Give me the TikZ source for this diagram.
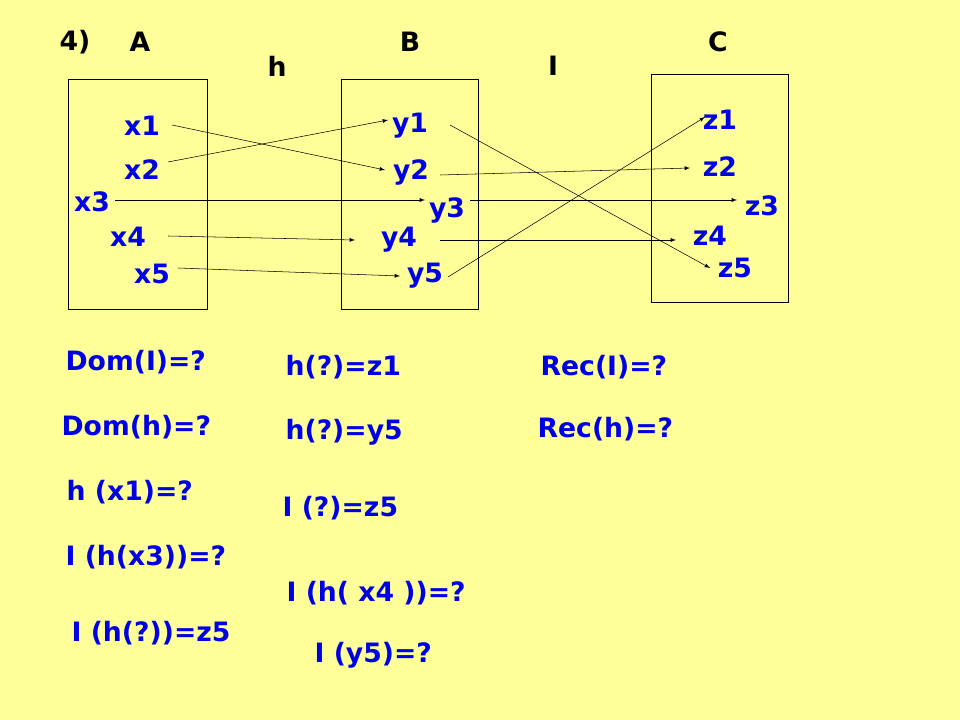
\documentclass[tikz,border=0pt]{standalone}
\usepackage{fontspec}
\setmainfont{DejaVu Sans}
\begin{document}
\begin{tikzpicture}[x=0.75pt,y=-0.75pt,
  lbl/.style={font=\bfseries\fontsize{20}{22}\selectfont,text=blue!90!black,inner sep=1pt},
  ttl/.style={font=\bfseries\fontsize{20}{22}\selectfont,text=black,inner sep=1pt},
  q/.style={lbl,anchor=west},
  ar/.style={-latex,thin},
  bx/.style={draw,thin}]
\fill[yellow!45!white,fill={rgb,255:red,255;green,255;blue,153}] (0,0) rectangle (960,720);
\useasboundingbox (0,0) rectangle (960,720);
\draw[bx] (68,79) rectangle (207,309);
\draw[bx] (341,79) rectangle (478,309);
\draw[bx] (651,74) rectangle (788,302);
\node[ttl] (t4) at (75,42) {4)};
\node[ttl] (tA) at (140,42) {A};
\node[ttl] (tB) at (410,42) {B};
\node[ttl] (tC) at (718,42) {C};
\node[ttl] (th) at (277,66) {h};
\node[ttl] (tI) at (553,66) {I};
\node[lbl] (x1) at (142,126) {x1};
\node[lbl] (x2) at (142,170) {x2};
\node[lbl] (x3) at (92,202) {x3};
\node[lbl] (x4) at (128,237) {x4};
\node[lbl] (x5) at (152,274) {x5};
\node[lbl] (y1) at (410,126) {y1};
\node[lbl] (y2) at (411,172) {y2};
\node[lbl] (y3) at (447,210) {y3};
\node[lbl] (y4) at (399,240) {y4};
\node[lbl] (y5) at (425,276) {y5};
\node[lbl] (z1) at (720,120) {z1};
\node[lbl] (z2) at (720,167) {z2};
\node[lbl] (z3) at (762,206) {z3};
\node[lbl] (z4) at (710,236) {z4};
\node[lbl] (z5) at (735,268) {z5};
\coordinate (a1) at (172,125); \coordinate (b2) at (385,170);
\coordinate (a2) at (168,162); \coordinate (b1) at (388,120);
\coordinate (a3) at (115,200); \coordinate (b3) at (425,200);
\coordinate (a4) at (168,236); \coordinate (b4) at (355,240);
\coordinate (a5) at (178,268); \coordinate (b5) at (400,276);
\coordinate (c1) at (450,125); \coordinate (d5) at (710,268);
\coordinate (c2) at (440,175); \coordinate (d2) at (690,168);
\coordinate (c3) at (470,200); \coordinate (d3) at (737,200);
\coordinate (c4) at (440,240); \coordinate (d4) at (676,240);
\coordinate (c5) at (448,277); \coordinate (d1) at (705,117);
\draw[ar] (a1)--(b2); \draw[ar] (a2)--(b1); \draw[ar] (a3)--(b3);
\draw[ar] (a4)--(b4); \draw[ar] (a5)--(b5);
\draw[ar] (c1)--(d5); \draw[ar] (c2)--(d2); \draw[ar] (c3)--(d3);
\draw[ar] (c4)--(d4); \draw[ar] (c5)--(d1);
\node[q] (q1) at (64,362) {Dom(I)=?};
\node[q] (q2) at (60,427) {Dom(h)=?};
\node[q] (q3) at (65,492) {h (x1)=?};
\node[q] (q4) at (64,557) {I (h(x3))=?};
\node[q] (q5) at (70,633) {I (h(?))=z5};
\node[q] (q6) at (284,367) {h(?)=z1};
\node[q] (q7) at (284,432) {h(?)=y5};
\node[q] (q8) at (281,508) {I (?)=z5};
\node[q] (q9) at (285,593) {I (h( x4 ))=?};
\node[q] (q10) at (313,655) {I (y5)=?};
\node[q] (q11) at (539,367) {Rec(I)=?};
\node[q] (q12) at (536,429) {Rec(h)=?};
\end{tikzpicture}
\end{document}
